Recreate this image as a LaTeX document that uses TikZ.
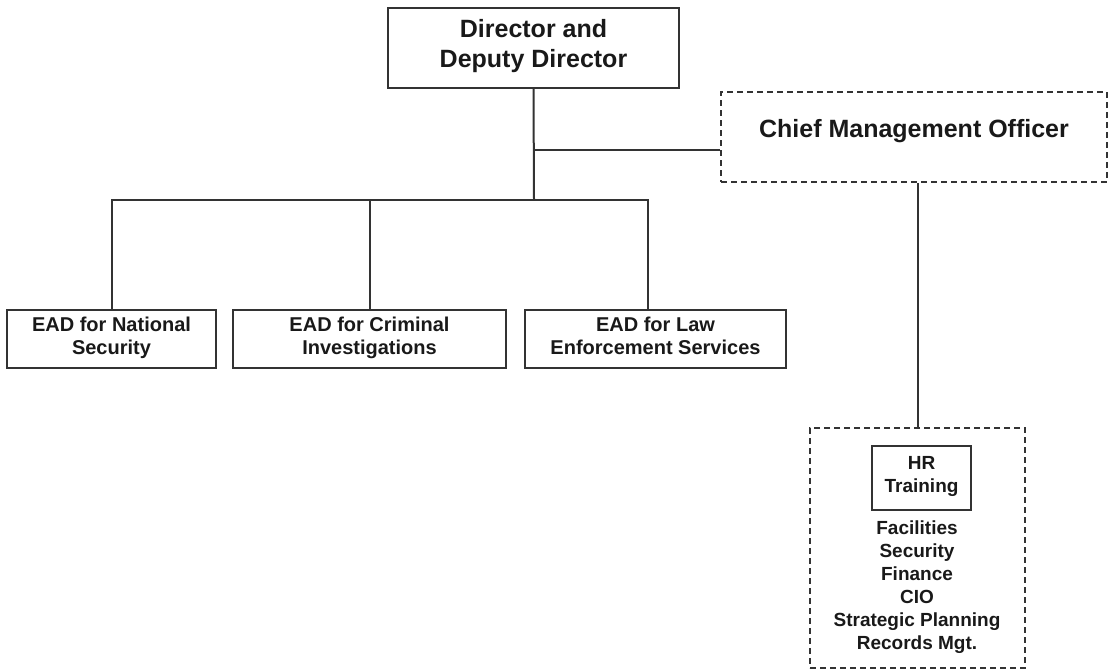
\documentclass[tikz,border=0pt]{standalone}
\usepackage{fontspec}
\setmainfont{Liberation Sans}
\usetikzlibrary{calc}

\begin{document}
\begin{tikzpicture}[x=0.5pt, y=-0.5pt, line width=1pt, color=black!80,
	box/.style={draw, inner sep=0pt, align=center, text=black!90, execute at end node=\strut, font=\bfseries\fontsize{10}{11.5}\selectfont},
	bigbox/.style={box, execute at end node={}, font=\bfseries\fontsize{12.5}{15}\selectfont},
	dashbox/.style={box, dash pattern=on 3pt off 2pt, line width=0.8pt}]
			%%%%% START %%%%%
			\useasboundingbox (0, 0) rectangle (1113, 670);
			
			\node[bigbox, minimum width=145.5pt, minimum height=40pt] (dir) at (533.5, 48) {Director and\\Deputy Director};
			\node[dashbox, font=\bfseries\fontsize{12.5}{15}\selectfont, execute at end node={}, text height=9pt, text depth=9pt, minimum width=193pt, minimum height=45pt] (cmo) at (914, 137) {Chief Management Officer};
			
			\node[box, minimum width=104.5pt, minimum height=29pt] (ead1) at (111.5, 339) {EAD for National\\Security};
			\node[box, minimum width=136.5pt, minimum height=29pt] (ead2) at (369.5, 339) {EAD for Criminal\\Investigations};
			\node[box, minimum width=130.5pt, minimum height=29pt] (ead3) at (655.5, 339) {EAD for Law\\Enforcement Services};
			
			\node[dashbox, minimum width=107.5pt, minimum height=120pt] (ops) at (917.5, 548) {};
			\node[box, line width=0.8pt, font=\bfseries\fontsize{9.5}{11.5}\selectfont, minimum width=49.5pt, minimum height=32pt] (hr) at (921.5, 478) {HR\\Training};
			\node[align=center, inner sep=0pt, text=black!90, font=\bfseries\fontsize{9.5}{11.5}\selectfont] (list) at (917, 587)
				{Facilities\\Security\\Finance\\CIO\\Strategic Planning\\Records Mgt.};
			
			\coordinate (bar) at (534, 200);
			\coordinate (tap) at (534, 150);
			\coordinate (drop3) at (648, 310);
			
			\draw (dir.south) -- (bar);
			\draw (tap) -- (tap -| cmo.west);
			\draw (ead1.north) |- (bar) -| (drop3);
			\draw (ead2.north) -- (ead2.north |- bar);
			\draw (ops.north) -- (ops.north |- cmo.south);
			%%%%% END %%%%%
		\end{tikzpicture}
\end{document}
